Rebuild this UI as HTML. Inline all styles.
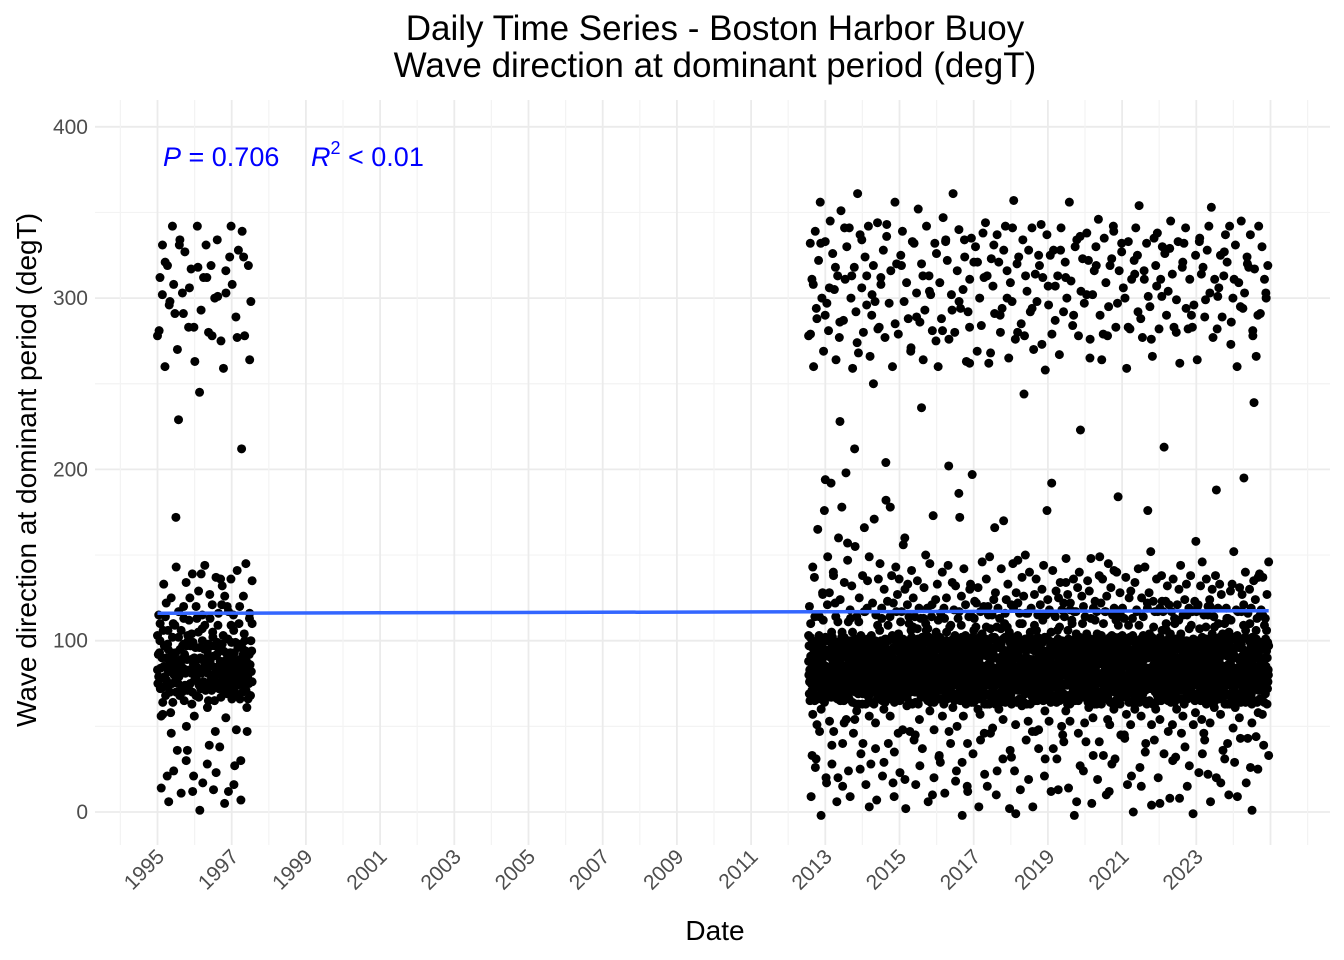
<!DOCTYPE html>
<html><head><meta charset="utf-8"><style>
body{margin:0;background:#fff;}
svg{display:block;font-family:"Liberation Sans",Arial,sans-serif;}
</style></head><body>
<svg id="chart" width="1344" height="960">
<text x="715" y="40" text-anchor="middle" font-size="35" fill="#000">Daily Time Series - Boston Harbor Buoy</text>
<text x="715" y="77" text-anchor="middle" font-size="35" fill="#000">Wave direction at dominant period (degT)</text>
<g id="grid"></g>
<g id="pts"></g>
<g id="axes"></g>
<text x="715" y="940" text-anchor="middle" font-size="28">Date</text>
<text transform="translate(36,470) rotate(-90)" text-anchor="middle" font-size="28">Wave direction at dominant period (degT)</text>
<text y="166" font-size="27" fill="#0000FF"><tspan x="163" font-style="italic">P</tspan><tspan> = 0.706</tspan><tspan x="311" font-style="italic">R</tspan><tspan dy="-12" font-size="18">2</tspan><tspan dy="12"> &lt; 0.01</tspan></text>
</svg>
<script>
const yTicks=[0,100,200,300,400];
const xTickYears=[1995,1997,1999,2001,2003,2005,2007,2009,2011,2013,2015,2017,2019,2021,2023];
const seg1Range=[1995.0,1997.55];
const seg2Range=[2012.55,2024.95];
const seg1Codes="A?B@hCD>A;@Bl=E?AC@p>B?A4DC@?kB>@A9C?D=Bn@AF?C>@A7B?D@r>CAB@?>CAjD=B?@A6CB>ED@?mA?CB@=>2DAiB?@C>A?B@pE=?CAB>L@?D3A?BC@A>?BnC@D=A8?B@C?>hAD@B?=CA?5@BDl?A>C@B?=AHD@?C>B1@AoC?B>D@?AB>C@tD=?A@B3C>?DAB@g?C>A@B=D6?AC@>BqA?D@C>B?A@=C?BeA>D@C?";
const seg1Out="hGn3rKdHp1lIt5jMfGs2mHqK7iIoL4eHtJ0kGnMr6hIpH3lKsG8gJdImH2qKnG5jLrH1tIhM9pGlK";
const seg1Mid="EF;GE<FR^EG:FE;GaEF<GE9FKE;GFE:FZE<GF";
const seg2Codes="B@C>?A=DhB@?CA>7D?B@nC>A?B=@D5?ACkB>@?D=ACB@?>A9D@C?rB=A>C@?JB>DA?C@=B?jD>@CA3?B@D=C?A>B@m?CDA>@B=?C6AD@?BL>C@A?=DBp@?C>AB@D=?4CA>B?@DiC=A?B>@D?CA8B@>?=DAtC?B@>AD=?C@BO?A>D@C=B?A2@CD>?BoA@=C?D>BA@?C;DA>@B?=CAg@D?B>C=A@?DB5>C?A@DsB=?C>A@D?BQ@A>C?=DB@kA?C>D@B=?A1C@>B?DA=C@?lB>DA@?C=B>A@?D7C?B@A>=DBhA?C@>D=?BA@CnD>?A@=BC?D>A6@B?C=DA>@?BuC?A>@D=B?C@A>DT?B@=CA>?D@B3?C>A@=DBiA?C@D>B=?A@C9D>?B@A=C?D>@BpA?C=@D>B?A@CD=4?B>A@C?D=BAK@>?C@DA=B?>@CfA?D@B=C>?A@D8B?C>A=@DB?jC@>A?D=B@C?A>5D@B?=CA@>DB?oC=?A@D>B?C@=AE?B>D@C=A?B@>DmA?C@=B>D?A@C2?B>D@A=C?B@>DAgC?=@B>DA?C@B=7?DA>@C?B=D@>AhC?B@A=D>?C@BAs?>D@C=B?A@>DC9?AB@=C>D?A@BkC=?D>A@B?C=@DA4?B>C@D=?AB@C>UlA?D@B=C>?A@D6B?C>A=@DBsC@>A?D=B@C?A>2D@B?=CAiJ@>DB?C=?A@D>B?C@=AG?B>D@C=A?B@>DpA?C@=B>D?A@C8?B>D@A=C?B@>DAnC?=@B>DA?C@B=3?DA>@C?B=D@>AfC?B@A=D>?C@BAr?>D@C=B?A@>DC5?AB@=C>D?A@BjC=?D>A@B?C=@DAR?B>C@D=?AB@C>AlA?D@B=C>?A@D7B?C>A=@DBtC@>A?D=B@C?A>0D@B?=CAhM@>DB?C=?A@D>B?C@=AF?B>D@C=A?B@>DoA?C@=B>D?A@C4?B>D@A=C?B@>DAkC?=@B>DA?C@B=9?DA>@C?B=D@>AqC?B@A=D>?C@BAg?>D@C=B?A@>DC6?AB@=C>D?A@BmC=?D>A@B?C=@DAV?B>C@D=?AB@C>AiA?D@B=C>?A@D3B?C>A=@DBrC@>A?D=B@C?A>8D@B?=CAnK@>DB?C=?A@D>B?C@=AH?B>D@C=A?B@>DjA?C@=B>D?A@C1?B>D@A=C?B@>DAsC?=@B>DA?C@B=5?DA>@C?B=D@>AlC?B@A=D>?C@BAe?>D@C=B?A@>DC7?AB@=C>D?A@BpC=?D>A@B?C=@DAN?B>C@D=?AB@C>AhA?D@B=C>?A@D2B?C>A=@DBkC@>A?D=B@C?A>6D@B?=CAtL@>DB?C=?A@D>B?C@=AG?B>D@C=A?B@>DqA?C@=B>D?A@C9?B>D@A=C?B@>DAiC?=@B>DA?C@B=4?DA>@C?B=D@>AoC?B@A=D>?C@BAj?>D@C=B?A@>DC3?AB@=C>D?A@BnC=?D>A@B?C=@DAS?B>C@D=?AB@C>AgA?D@B=C>?A@D8B?C>A=@DBmC@>A?D=B@C?A>1D@B?=CAlI@>DB?C=?A@D>B?C@=AE?B>D@C=A?B@>DrA?C@=B>D?A@C6?B>D@A=C?B@>DAhC?=@B>DA?C@B=2?DA>@C?B=D@>ApC?B@A=D>?C@BAk?>D@C=B?A@>DC5?AB@=C>D?A@BiC=?D>A@B?C=@DAP?B>C@D=?AB@C>AsA?D@B=C>?A@D7B?C>A=@DBjC@>A?D=B@C?A>4D@B?=CAmH@>DB?C=?A@D>B?C@=AF?B>D@C=A?B@>DlA?C@=B>D?A@C3?B>D@A=C?B@>DAqC?=@B>DA?C@B=8?DA>@C?B=D@>AgC?B@A=D>?C@BAn?>D@C=B?A@>DC2?AB@=C>D?A@BkC=?D>A@B?C=@DAW?B>C@D=?AB@C>ApA?D@B=C>?A@D5B?C>A=@DBhC@>A?D=B@C?A>9D@B?=CAjK@>DB?C=?A@D>B?C@=AG?B>D@C=A?B@>DmA?C@=B>D?A@C";
const seg2Out="hHr2nMdKt6jQpGw0lIfSs4kNhJuV8qLmHe1oPgIvT3iKnXrM5tHlJd9pOjGxfIs7mLhGq3oKtNe6jHpRlG1uKiMnH4rJgYsI8kGoLdH2wMpIhK5qGtOlJ0nHjF9fLsIrG3mKvHiGp7eJkNtH1oMlGhS4rIqKd6nGjLuH2sIpMgF8lKxHhJ5oGtRkI0mLqHe3jGnKsW7pIrHfJ1lGiMtH4uKoHdN9qGmIjJ2sHpGhLk6rFtIoKe0nHlMw5gJpHqG3iKsIhN8mGrLjHt1fIoKlG7pHuJnM4dGsIkHq2hLrGmJ6oIeKtH9jGpNlI3wHnFiK0rGsJhL5mIqHkG8tKpJgN1lHoIrG4uLjHeK7sGnIhM2pJqGtH6iLkFoJ9rHmGlKd3sIhJnG0pKtHqLw5jIgGoM8rHlJkN1eIsGpKt4hHnLrG7qIjJmH2uGoKiF6lHsJdM9pGrItK3hHnLjG0kIqGeH5sJoMpG8lKrHtI1wJgGnL4hHmKqIj7oFsHpG2tJiKlN6rHdGnJ9uIkHmL3qGpJsH0hKoIeG5tLjHrK8nGlIpM";
const seg2Mid="EF;G:E<FWH;E9GF^E:;FGEZ<FE8GH;Eb:FEG<TF;E7GEF:P<GEF9E;_GFE<H:EF6;GEXF<E:GF;E8dGEF<;E9FGE:QF<E;GFE6H:EF<aG;E9FE:GF<S;E7GEF:H<E;FGE9]F:E<G;FE8EFG;:E<FUGE9;F:E<GF;E7HE:F<G;E[F9E:G<FE;8GEF:<HE;9FG:E<VF;E6GEF:<E;GFE9F:`E<G;FE7";

const fitY=[116.0,117.5];
const fitX=[1995.0,2024.95];

const NS="http://www.w3.org/2000/svg";
const L=95,R=1330,T=100,B=845;
const xS=y=>157.5+(y-1995)*37.1;
const yS=v=>812-v*1.713;
const grid=document.getElementById('grid'),pts=document.getElementById('pts'),axes=document.getElementById('axes');
function line(p,x1,y1,x2,y2,c,w){const l=document.createElementNS(NS,'line');l.setAttribute('x1',x1);l.setAttribute('y1',y1);l.setAttribute('x2',x2);l.setAttribute('y2',y2);l.setAttribute('stroke',c);l.setAttribute('stroke-width',w);p.appendChild(l);return l;}
for(let v=0;v<=400;v+=50){const g=line(grid,L,yS(v),R,yS(v),v%100?'#F3F3F3':'#EBEBEB',v%100?1.2:1.8);

}
for(let y=1994;y<=2026;y++){const g=line(grid,xS(y),T,xS(y),B,y%2?'#EBEBEB':'#F3F3F3',y%2?1.8:1.2);

}
yTicks.forEach(v=>{const t=document.createElementNS(NS,'text');t.setAttribute('x',88);t.setAttribute('y',yS(v)+7);t.setAttribute('text-anchor','end');t.setAttribute('font-size','21');t.setAttribute('fill','#4D4D4D');t.textContent=v;


axes.appendChild(t);});
xTickYears.forEach(y=>{const t=document.createElementNS(NS,'text');const x=xS(y)+8,yy=858;t.setAttribute('transform',`translate(${x},${yy}) rotate(-45)`);t.setAttribute('text-anchor','end');t.setAttribute('font-size','21');t.setAttribute('fill','#4D4D4D');t.textContent=y;


axes.appendChild(t);});
function drawSeg(range,codes){const step=(range[1]-range[0])/(codes.length-1);
for(let i=0;i<codes.length;i++){const v=(codes.charCodeAt(i)-48)*5;
const jit=((i*37)%5)-2; // display jitter only
const c=document.createElementNS(NS,'circle');c.setAttribute('cx',xS(range[0]+i*step).toFixed(2));c.setAttribute('cy',yS(v+jit).toFixed(2));c.setAttribute('r',4.5);c.setAttribute('fill','#000');


pts.appendChild(c);}}
drawSeg(seg1Range,seg1Codes);
drawSeg(seg1Range,seg1Out);
drawSeg(seg1Range,seg1Mid);
drawSeg(seg2Range,seg2Codes);
drawSeg(seg2Range,seg2Out);
drawSeg(seg2Range,seg2Mid);
const fl=line(pts,xS(fitX[0]),yS(fitY[0]),xS(fitX[1]),yS(fitY[1]),'#3366FF',3.5);


</script>
</body></html>
